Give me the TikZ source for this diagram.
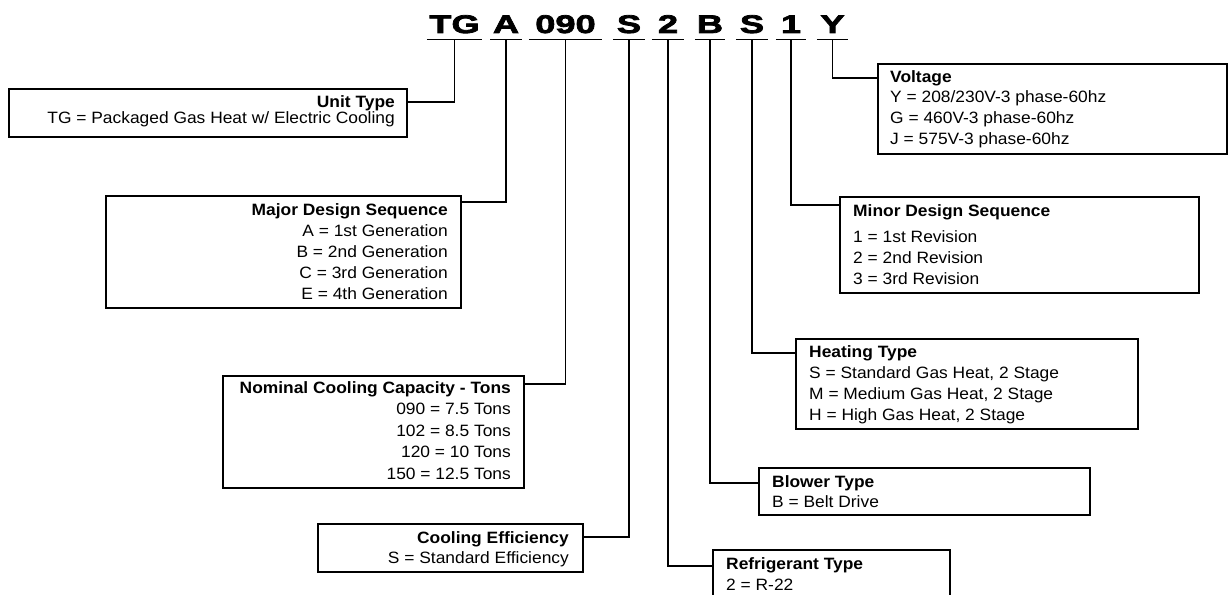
\documentclass[tikz,border=0pt]{standalone}
\usepackage{fontspec}
\setmainfont{Liberation Sans}[FakeStretch=1.06]
\newfontfamily\codefont{Liberation Sans Bold}[FakeStretch=1.42,FakeBold=3]
\begin{document}
\begin{tikzpicture}[x=1pt,y=-1pt,
  box/.style={draw,line width=1.6pt,inner sep=0pt,anchor=north west},
  conn/.style={line width=1.8pt},
  code/.style={font=\codefont\fontsize{25.5}{25.5}\selectfont,inner sep=0pt,anchor=base},
  txt/.style={font=\fontsize{16.4}{#1}\selectfont,inner sep=0pt}]
\useasboundingbox (0,0) rectangle (1228,594);
% code letters
\node[code,minimum width=55] (cTG) at (454.5,33) {TG};
\node[code,minimum width=31] (cA)  at (506,33) {A};
\node[code,minimum width=73] (c090) at (565.5,33) {090};
\node[code,minimum width=32] (cS1) at (629,33) {S};
\node[code,minimum width=32] (c2)  at (668,33) {2};
\node[code,minimum width=30] (cB)  at (710,33) {B};
\node[code,minimum width=32] (cS2) at (752,33) {S};
\node[code,minimum width=30] (c1)  at (791,33) {1};
\node[code,minimum width=31] (cY)  at (832.5,33) {Y};
\foreach \n in {cTG,cA,c090,cS1,c2,cB,cS2,c1,cY}
  \draw[conn] ([yshift=-6.5pt]\n.base west) -- ([yshift=-6.5pt]\n.base east);
% boxes
\node[box,minimum width=398,minimum height=48]  (bUnit)  at (8,88) {};
\node[box,minimum width=355,minimum height=112] (bMajor) at (105,195) {};
\node[box,minimum width=301,minimum height=112] (bNom)   at (222,375) {};
\node[box,minimum width=265,minimum height=48]  (bEff)   at (317,523) {};
\node[box,minimum width=237,minimum height=60]  (bRef)   at (712,549) {};
\node[box,minimum width=331,minimum height=47]  (bBlow)  at (758,467) {};
\node[box,minimum width=342,minimum height=90]  (bHeat)  at (795,338) {};
\node[box,minimum width=359,minimum height=96]  (bMinor) at (839,196) {};
\node[box,minimum width=349,minimum height=90]  (bVolt)  at (877,63) {};
% texts
\node[txt=16,anchor=base east] (tUnit) at (395,107)
  {\begin{tabular}[t]{@{}r@{}}\textbf{Unit Type}\\TG = Packaged Gas Heat w/ Electric Cooling\end{tabular}};
\node[txt=21,anchor=base east] (tMajor) at (448,215)
  {\begin{tabular}[t]{@{}r@{}}\textbf{Major Design Sequence}\\A = 1st Generation\\B = 2nd Generation\\C = 3rd Generation\\E = 4th Generation\end{tabular}};
\node[txt=21.5,anchor=base east] (tNom) at (511,393)
  {\begin{tabular}[t]{@{}r@{}}\textbf{Nominal Cooling Capacity - Tons}\\090 = 7.5 Tons\\102 = 8.5 Tons\\120 = 10 Tons\\150 = 12.5 Tons\end{tabular}};
\node[txt=20,anchor=base east] (tEff) at (569,543)
  {\begin{tabular}[t]{@{}r@{}}\textbf{Cooling Efficiency}\\S = Standard Efficiency\end{tabular}};
\node[txt=21,anchor=base west] (tRef) at (726,569)
  {\begin{tabular}[t]{@{}l@{}}\textbf{Refrigerant Type}\\2 = R-22\end{tabular}};
\node[txt=20,anchor=base west] (tBlow) at (772,487)
  {\begin{tabular}[t]{@{}l@{}}\textbf{Blower Type}\\B = Belt Drive\end{tabular}};
\node[txt=21,anchor=base west] (tHeat) at (809,357)
  {\begin{tabular}[t]{@{}l@{}}\textbf{Heating Type}\\S = Standard Gas Heat, 2 Stage\\M = Medium Gas Heat, 2 Stage\\H = High Gas Heat, 2 Stage\end{tabular}};
\node[txt=21,anchor=base west] (tMinor) at (853,216)
  {\begin{tabular}[t]{@{}l@{}}\textbf{Minor Design Sequence}\\[5pt]1 = 1st Revision\\2 = 2nd Revision\\3 = 3rd Revision\end{tabular}};
\node[txt=20.7,anchor=base west] (tVolt) at (890,82)
  {\begin{tabular}[t]{@{}l@{}}\textbf{Voltage}\\Y = 208/230V-3 phase-60hz\\G = 460V-3 phase-60hz\\J = 575V-3 phase-60hz\end{tabular}};
% connectors
\draw[conn] ([yshift=-6.5pt]cTG.base)  |- ([yshift=-14pt]bUnit.north east);
\draw[conn] ([yshift=-6.5pt]cA.base)   |- ([yshift=-7pt]bMajor.north east);
\draw[conn] ([yshift=-6.5pt]c090.base) |- ([yshift=-9pt]bNom.north east);
\draw[conn] ([yshift=-6.5pt]cS1.base)  |- ([yshift=-14pt]bEff.north east);
\draw[conn] ([yshift=-6.5pt]c2.base)   |- ([yshift=-17pt]bRef.north west);
\draw[conn] ([yshift=-6.5pt]cB.base)   |- ([yshift=-16pt]bBlow.north west);
\draw[conn] ([yshift=-6.5pt]cS2.base)  |- ([yshift=-15pt]bHeat.north west);
\draw[conn] ([yshift=-6.5pt]c1.base)   |- ([yshift=-9pt]bMinor.north west);
\draw[conn] ([yshift=-6.5pt]cY.base)   |- ([yshift=-15pt]bVolt.north west);
\end{tikzpicture}
\end{document}
